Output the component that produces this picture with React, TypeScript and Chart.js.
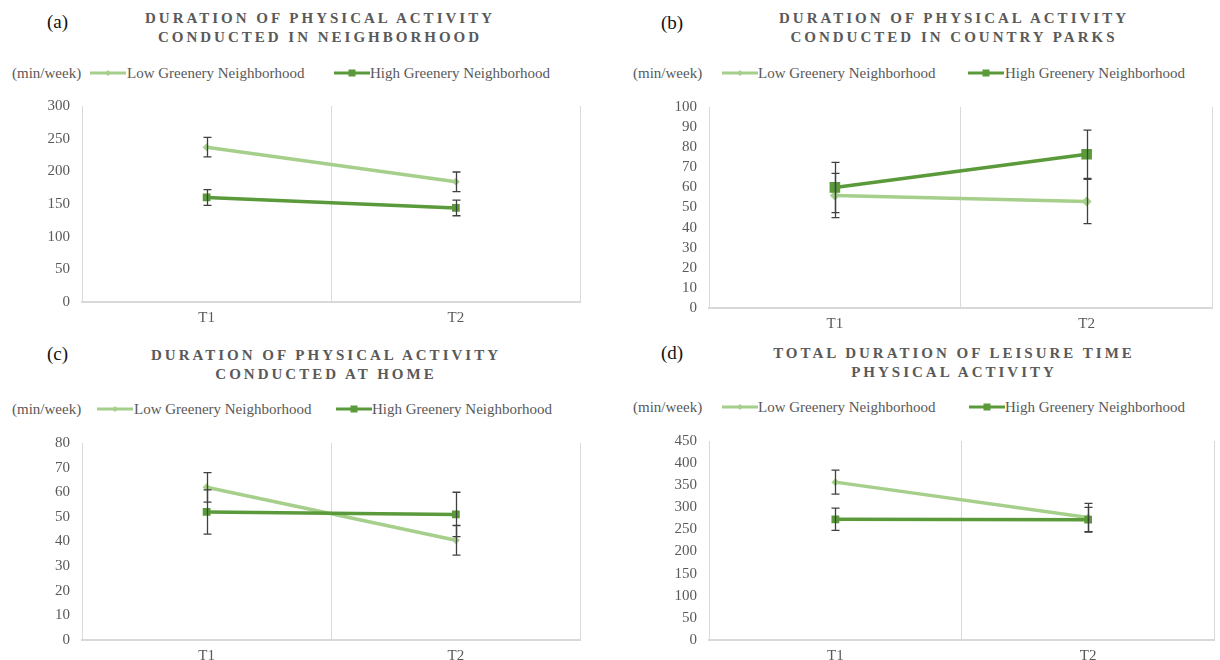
import React, { useEffect, useRef } from "react";
import { Chart, registerables } from "chart.js";

Chart.register(...registerables);

// ---------- DATA ----------
const categories = ["T1", "T2"];
const seriesNames = ["Low Greenery Neighborhood", "High Greenery Neighborhood"];
const unitLabel = "(min/week)";

// (a) Neighborhood
const aLow = [237, 184];
const aLowErr = [15, 15];
const aHigh = [160, 144];
const aHighErr = [12, 12];
const aTicks = { max: 300, step: 50 };

// (b) Country parks
const bLow = [56, 53];
const bLowErr = [11, 11];
const bHigh = [60, 76.5];
const bHighErr = [12.5, 12];
const bTicks = { max: 100, step: 10 };

// (c) Home
const cLow = [62, 40.5];
const cLowErr = [6, 6];
const cHigh = [52, 51];
const cHighErr = [9, 9];
const cTicks = { max: 80, step: 10 };

// (d) Total leisure time
const dLow = [357, 277];
const dLowErr = [27, 32];
const dHigh = [273, 272];
const dHighErr = [25, 28];
const dTicks = { max: 450, step: 50 };

const titles = {
  a: ["DURATION OF PHYSICAL ACTIVITY", "CONDUCTED IN NEIGHBORHOOD"],
  b: ["DURATION OF PHYSICAL ACTIVITY", "CONDUCTED IN COUNTRY PARKS"],
  c: ["DURATION OF PHYSICAL ACTIVITY", "CONDUCTED AT HOME"],
  d: ["TOTAL DURATION OF LEISURE TIME", "PHYSICAL ACTIVITY"],
};

// ---------- STYLE ----------
const LOW_COLOR = "#a6cf8b";
const HIGH_COLOR = "#5a9a3a";
const TEXT_GRAY = "#595959";
const GRID_GRAY = "#d9d9d9";
const ERR_COLOR = "#404040";
const SERIF = "'Liberation Serif', 'Times New Roman', serif";

const errorBarPlugin = {
  id: "errorBars",
  afterDatasetsDraw(chart: any) {
    const ctx = chart.ctx;
    const yScale = chart.scales.y;
    chart.data.datasets.forEach((ds: any, di: number) => {
      const errs = ds.errors;
      if (!errs) return;
      const meta = chart.getDatasetMeta(di);
      meta.data.forEach((pt: any, i: number) => {
        const v = ds.data[i];
        const e = errs[i];
        const x = Math.round(pt.x) + 0.5;
        const yT = yScale.getPixelForValue(v + e);
        const yB = yScale.getPixelForValue(v - e);
        ctx.save();
        ctx.strokeStyle = ERR_COLOR;
        ctx.lineWidth = 1.3;
        ctx.beginPath();
        ctx.moveTo(x, yT);
        ctx.lineTo(x, yB);
        ctx.moveTo(x - 4, yT);
        ctx.lineTo(x + 4, yT);
        ctx.moveTo(x - 4, yB);
        ctx.lineTo(x + 4, yB);
        ctx.stroke();
        ctx.restore();
      });
    });
  },
};

type PanelProps = {
  low: number[];
  lowErr: number[];
  high: number[];
  highErr: number[];
  ticks: { max: number; step: number };
  left: number;
  top: number;
  width: number;
  height: number;
  padRight: number;
  lowRadius: number;
  highRadius: number;
};

function ChartPanel(p: PanelProps) {
  const ref = useRef<HTMLCanvasElement | null>(null);
  useEffect(() => {
    if (!ref.current) return;
    const chart = new Chart(ref.current, {
      type: "line",
      data: {
        labels: categories,
        datasets: [
          {
            label: seriesNames[0],
            data: p.low,
            errors: p.lowErr,
            borderColor: LOW_COLOR,
            backgroundColor: LOW_COLOR,
            borderWidth: 3.5,
            pointStyle: "rectRot",
            pointRadius: p.lowRadius,
            pointBorderWidth: 0,
            order: 1,
          } as any,
          {
            label: seriesNames[1],
            data: p.high,
            errors: p.highErr,
            borderColor: HIGH_COLOR,
            backgroundColor: HIGH_COLOR,
            borderWidth: 3.5,
            pointStyle: "rect",
            pointRadius: p.highRadius,
            pointBorderWidth: 0,
            order: 0,
          } as any,
        ],
      },
      options: {
        responsive: false,
        animation: false,
        layout: { padding: { top: 0, right: p.padRight, bottom: 0, left: 0 } },
        plugins: { legend: { display: false }, tooltip: { enabled: false } },
        scales: {
          x: {
            type: "category",
            offset: true,
            grid: { display: true, offset: true, color: GRID_GRAY, lineWidth: 1, drawTicks: false },
            border: { display: true, color: GRID_GRAY, width: 2 },
            ticks: { color: TEXT_GRAY, font: { family: SERIF, size: 15 }, padding: 7 },
            afterFit: (s: any) => {
              s.height = 28;
            },
          },
          y: {
            min: 0,
            max: p.ticks.max,
            grid: { display: false, drawTicks: false },
            border: { display: false },
            ticks: {
              stepSize: p.ticks.step,
              autoSkip: false,
              color: TEXT_GRAY,
              font: { family: SERIF, size: 15 },
              padding: 12,
            },
            afterFit: (s: any) => {
              s.width = 82;
            },
          },
        },
      },
      plugins: [errorBarPlugin],
    });
    return () => chart.destroy();
  }, []);
  return (
    <canvas
      ref={ref}
      width={p.width}
      height={p.height}
      style={{ position: "absolute", left: p.left, top: p.top, width: p.width, height: p.height }}
    />
  );
}

function LegendSample({ kind, x, y }: { kind: "low" | "high"; x: number; y: number }) {
  const color = kind === "low" ? LOW_COLOR : HIGH_COLOR;
  return (
    <svg width={36} height={12} style={{ position: "absolute", left: x, top: y - 6 }}>
      <line x1={0} y1={6} x2={36} y2={6} stroke={color} strokeWidth={3} />
      {kind === "low" ? (
        <polygon points="18,3 21,6 18,9 15,6" fill={color} />
      ) : (
        <rect x={14.5} y={2.5} width={7} height={7} fill={color} />
      )}
    </svg>
  );
}

type LegendPos = { y: number; unitX: number; lowSample: number; lowText: number; highSample: number; highText: number };

function Legend({ pos }: { pos: LegendPos }) {
  const txt = (x: number, s: string) => (
    <div
      style={{
        position: "absolute",
        left: x,
        top: pos.y - 9,
        height: 18,
        lineHeight: "18px",
        fontSize: 15,
        fontFamily: SERIF,
        color: TEXT_GRAY,
        whiteSpace: "nowrap",
      }}
    >
      {s}
    </div>
  );
  return (
    <>
      {txt(pos.unitX, unitLabel)}
      <LegendSample kind="low" x={pos.lowSample} y={pos.y} />
      {txt(pos.lowText, seriesNames[0])}
      <LegendSample kind="high" x={pos.highSample} y={pos.y} />
      {txt(pos.highText, seriesNames[1])}
    </>
  );
}

function Title({ lines, cx, y1, y2 }: { lines: string[]; cx: number; y1: number; y2: number }) {
  const st = (y: number): React.CSSProperties => ({
    position: "absolute",
    left: cx - 250,
    width: 500,
    top: y - 9,
    height: 18,
    lineHeight: "18px",
    textAlign: "center",
    fontFamily: SERIF,
    fontWeight: "bold",
    fontSize: 15,
    letterSpacing: "3px",
    color: TEXT_GRAY,
    whiteSpace: "nowrap",
  });
  return (
    <>
      <div style={st(y1)}>{lines[0]}</div>
      <div style={st(y2)}>{lines[1]}</div>
    </>
  );
}

function PanelLabel({ text, x, y }: { text: string; x: number; y: number }) {
  return (
    <div
      style={{
        position: "absolute",
        left: x,
        top: y - 11,
        height: 22,
        lineHeight: "22px",
        fontFamily: SERIF,
        fontSize: 19,
        color: "#111",
      }}
    >
      {text}
    </div>
  );
}

export default function App() {
  return (
    <div style={{ position: "relative", width: 1220, height: 660, background: "#fff", overflow: "hidden" }}>
      <style>{`body{margin:0;}`}</style>

      {/* (a) */}
      <PanelLabel text="(a)" x={47} y={22} />
      <Title lines={titles.a} cx={320} y1={18} y2={37} />
      <Legend pos={{ y: 73, unitX: 12, lowSample: 90, lowText: 127, highSample: 334, highText: 370 }} />
      <ChartPanel low={aLow} lowErr={aLowErr} high={aHigh} highErr={aHighErr} ticks={aTicks}
        left={0} top={85} width={586} height={245} padRight={3} lowRadius={4} highRadius={5.5} />

      {/* (b) */}
      <PanelLabel text="(b)" x={661} y={23} />
      <Title lines={titles.b} cx={954} y1={18} y2={37} />
      <Legend pos={{ y: 73, unitX: 633, lowSample: 722, lowText: 758, highSample: 968, highText: 1005 }} />
      <ChartPanel low={bLow} lowErr={bLowErr} high={bHigh} highErr={bHighErr} ticks={bTicks}
        left={627} top={86} width={593} height={250} padRight={0} lowRadius={5} highRadius={7.5} />

      {/* (c) */}
      <PanelLabel text="(c)" x={47} y={354} />
      <Title lines={titles.c} cx={326} y1={355} y2={374} />
      <Legend pos={{ y: 409, unitX: 12, lowSample: 97, lowText: 134, highSample: 336, highText: 372 }} />
      <ChartPanel low={cLow} lowErr={cLowErr} high={cHigh} highErr={cHighErr} ticks={cTicks}
        left={0} top={422} width={586} height={246} padRight={3} lowRadius={4} highRadius={5.5} />

      {/* (d) */}
      <PanelLabel text="(d)" x={661} y={353} />
      <Title lines={titles.d} cx={954} y1={353} y2={372} />
      <Legend pos={{ y: 407, unitX: 633, lowSample: 722, lowText: 758, highSample: 969, highText: 1005 }} />
      <ChartPanel low={dLow} lowErr={dLowErr} high={dHigh} highErr={dHighErr} ticks={dTicks}
        left={627} top={420} width={593} height={248} padRight={0} lowRadius={4} highRadius={5.5} />
    </div>
  );
}
